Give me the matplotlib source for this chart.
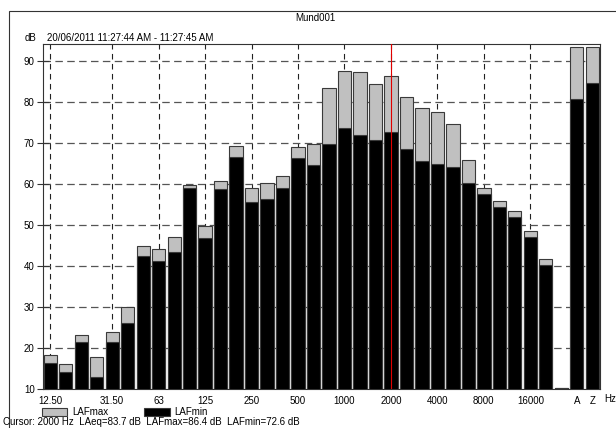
import numpy as np
import matplotlib
matplotlib.use("Agg")
import matplotlib.pyplot as plt
from matplotlib.patches import Rectangle

plt.rcParams['font.family'] = ['Liberation Sans', 'DejaVu Sans']
plt.rcParams['font.size'] = 7

# --- data ---
bands = ["12.50", "16", "20", "25", "31.50", "40", "50", "63", "80", "100",
         "125", "160", "200", "250", "315", "400", "500", "630", "800", "1000",
         "1250", "1600", "2000", "2500", "3150", "4000", "5000", "6300", "8000",
         "10000", "12500", "16000", "20000", "", "A", "Z"]
laf_max = [18.3, 16.0, 23.1, 17.7, 24.0, 29.9, 44.8, 44.1, 47.0, 59.7,
           49.8, 60.8, 69.1, 59.1, 60.2, 62.0, 69.0, 69.6, 83.3, 87.6,
           87.3, 84.3, 86.4, 81.2, 78.5, 77.6, 74.5, 65.8, 59.1,
           55.8, 53.5, 48.4, 41.6, 10.3, 93.4, 93.4]
laf_min = [16.3, 14.2, 21.5, 13.0, 21.5, 26.0, 42.5, 41.2, 43.4, 59.0,
           46.8, 58.7, 66.6, 55.5, 56.3, 58.9, 66.3, 64.6, 69.7, 73.6,
           72.0, 70.7, 72.6, 68.5, 65.5, 64.9, 64.1, 60.2, 57.5,
           54.3, 51.9, 47.1, 40.1, 10.3, 80.6, 84.6]
tick_labels = ["12.50", "31.50", "63", "125", "250", "500", "1000", "2000",
               "4000", "8000", "16000", "A", "Z"]
grid_labels = tick_labels[:-2]
cursor_band = "2000"

x = np.arange(len(bands))
tick_pos = [bands.index(t) for t in tick_labels]

fig = plt.figure(figsize=(6.16, 4.28), dpi=100)
ax = fig.add_axes([43/616, 1 - 389/428, 557/616, (389 - 43.5)/428])

edge = "#3a3a3a"
b1 = ax.bar(x, laf_max, width=0.86, color="#c0c0c0", edgecolor=edge, linewidth=0.8,
            label="LAFmax", zorder=2)
b2 = ax.bar(x, laf_min, width=0.86, color="black", edgecolor=edge, linewidth=0.8,
            label="LAFmin", zorder=3)

ax.axvline(bands.index(cursor_band), color="#e00000", linewidth=0.8, zorder=4)

# dashed grid, vertical ones only at the labelled octave bands
for t in grid_labels:
    ax.axvline(bands.index(t), color="#222222", linewidth=0.8, dashes=(5, 4), zorder=1)
for yv in range(20, 100, 10):
    ax.axhline(yv, color="#555555", linewidth=0.9, dashes=(6, 3.5), zorder=1)

ax.set_xlim(-0.47, 35.5)
ax.set_ylim(10, 94.2)
ax.set_yticks(range(10, 100, 10))
ax.set_xticks(tick_pos)
ax.set_xticklabels(tick_labels)
ax.tick_params(axis="y", direction="inout", length=8, width=0.8, pad=2, colors="#333333",
               labelcolor="black")
ax.tick_params(axis="x", length=0, pad=5)
ax.tick_params(axis="x", which="major", top=True, direction="in")
for s in ax.spines.values():
    s.set_color("#333333")
    s.set_linewidth(0.8)

# outer frame
fig.patches.append(Rectangle((9/616, -0.1), 1.0, 1 - 10.7/428 + 0.1,
                             transform=fig.transFigure, fill=False,
                             edgecolor="#333333", linewidth=0.8))

fig.text(315/616, 1 - 21/428, "Mund001", ha="center", va="baseline")
fig.text(25/616, 1 - 41/428, "dB", ha="left", va="baseline")
fig.text(47/616, 1 - 41/428, "20/06/2011 11:27:44 AM - 11:27:45 AM", ha="left", va="baseline")
fig.text(610/616, 1 - 399/428, "Hz", ha="center", va="center")

fig.legend(handles=[b1, b2], loc="upper left", bbox_to_anchor=(42/616, 1 - 407/428),
           ncol=2, frameon=False, borderpad=0, borderaxespad=0,
           handlelength=2.6, handleheight=0.9, handletextpad=0.5, columnspacing=3.7)

i = bands.index(cursor_band)
fig.text(3/616, 1 - 422/428,
         f"Cursor: {cursor_band} Hz  LAeq=83.7 dB  LAFmax={laf_max[i]:.1f} dB  LAFmin={laf_min[i]:.1f} dB",
         ha="left", va="center")

fig.savefig("out.png", dpi=100)
